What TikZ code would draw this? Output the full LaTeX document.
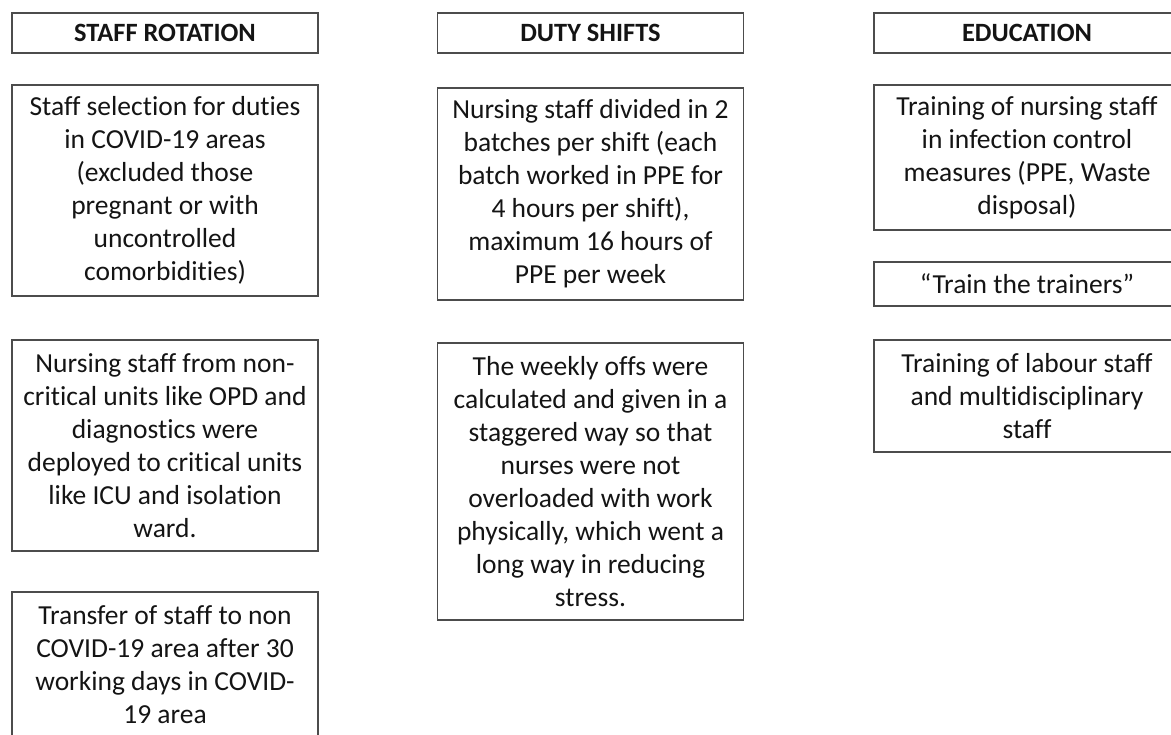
\documentclass[tikz,border=0pt]{standalone}
\usepackage{fontspec}
\setmainfont[Ligatures=NoCommon]{Carlito}
\tikzset{
  panel/.style={draw=black!70, line width=0.8pt, minimum width=153pt,
    inner sep=0pt, align=center, text=black!92,
    font=\fontsize{13.75}{16.5}\selectfont},
  headbox/.style={panel, minimum height=20pt,
    font=\fontsize{13.2}{16}\selectfont\bfseries},
}
\begin{document}
\begin{tikzpicture}[x=0.5pt,y=-0.5pt]
  \useasboundingbox (0,0) rectangle (1171,734);
  \clip (0,0) rectangle (1171,734);
  % staff rotation
  \node[headbox] (rothead) at (165,33) {STAFF ROTATION};
  \node[panel, minimum height=105.5pt] (rotsel) at (165,190.5)
    {Staff selection for duties\\ in COVID-19 areas\\ (excluded those\\ pregnant or with\\ uncontrolled\\ comorbidities)};
  \node[panel, minimum height=105.5pt] (rotdeploy) at (165,445.5)
    {Nursing staff from non-\\critical units like OPD and\\ diagnostics were\\ deployed to critical units\\ like ICU and isolation\\ ward.};
  \node[panel, minimum height=73pt] (rottransfer) at (165,665)
    {Transfer of staff to non\\ COVID-19 area after 30\\ working days in COVID-\\19 area};
  % duty shifts
  \node[headbox] (dutyhead) at (590.5,33) {DUTY SHIFTS};
  \node[panel, minimum height=106pt] (dutybatch) at (590.5,194)
    {Nursing staff divided in 2\\ batches per shift (each\\ batch worked in PPE for\\ 4 hours per shift),\\ maximum 16 hours of\\ PPE per week};
  \node[panel, minimum height=138.5pt] (dutyoffs) at (590.5,481.5)
    {The weekly offs were\\ calculated and given in a\\ staggered way so that\\ nurses were not\\ overloaded with work\\ physically, which went a\\ long way in reducing\\ stress.};
  % education
  \node[headbox] (eduhead) at (1027,33) {EDUCATION};
  \node[panel, minimum height=72.5pt] (edunurse) at (1027,157.5)
    {Training of nursing staff\\ in infection control\\ measures (PPE, Waste\\ disposal)};
  \node[panel, minimum height=22pt] (edutrain) at (1027,284)
    {“Train the trainers”};
  \node[panel, minimum height=56pt] (edulabour) at (1027,396)
    {Training of labour staff\\ and multidisciplinary\\ staff};
\end{tikzpicture}
\end{document}
